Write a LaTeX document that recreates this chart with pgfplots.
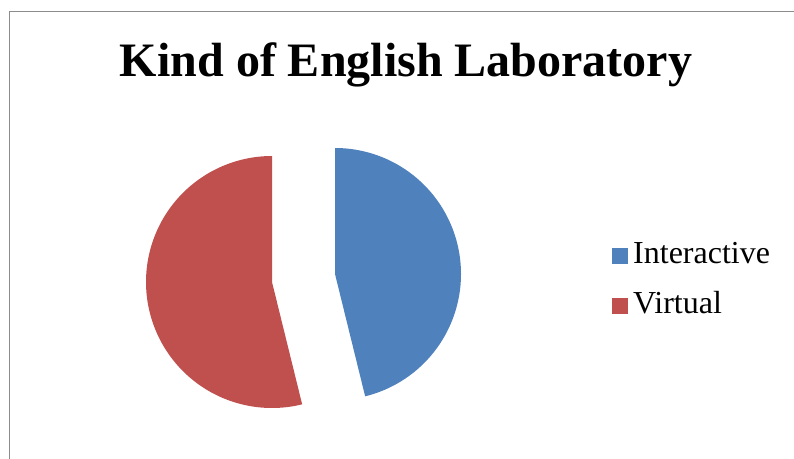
\documentclass[border=0pt]{standalone}
\usepackage{pgfplots}
\pgfplotsset{compat=1.18}
\usepackage{fontspec}
\setmainfont{Liberation Serif}
\definecolor{pieblue}{HTML}{4F81BD}
\definecolor{piered}{HTML}{C0504D}
\definecolor{framegray}{HTML}{8C8C8C}
\begin{document}
\begin{tikzpicture}
\useasboundingbox (0,0) rectangle (794pt,458pt);
\clip (0,0) rectangle (794pt,458pt);
\draw[framegray, line width=1.8pt] (9.5pt,-10pt) -- (9.5pt,446.5pt) -- (820pt,446.5pt);
\begin{axis}[
  at={(0pt,0pt)}, anchor=south west,
  x=1pt, y=1pt, xmin=0, xmax=794, ymin=0, ymax=458,
  hide axis, clip=false,
  legend style={at={(axis cs:609,177)}, anchor=west, draw=none, fill=none,
    font=\fontsize{32}{32}\selectfont, row sep=22pt,
    nodes={inner xsep=5pt, inner ysep=0pt, text height=22pt, text depth=6pt}},
  legend cell align=left,
  legend image code/.code={\fill[#1] (0pt,-8pt) rectangle (16pt,8pt);},
]
% Interactive = 6, Virtual = 7 (share of 13)
\addplot[fill=pieblue, draw=none, domain=-76.154:90, samples=160, variable=\t]
  ({335+126*cos(t)}, {184+126*sin(t)}) -- (axis cs:335,184) -- cycle;
\addlegendentry{Interactive}
\addplot[fill=piered, draw=none, domain=90:283.846, samples=180, variable=\t]
  ({272+126*cos(t)}, {176+126*sin(t)}) -- (axis cs:272,176) -- cycle;
\addlegendentry{Virtual}
\node[anchor=base, font=\fontsize{48}{48}\selectfont\bfseries] at (axis cs:406,381) {Kind of English Laboratory};
\end{axis}
\end{tikzpicture}
\end{document}
